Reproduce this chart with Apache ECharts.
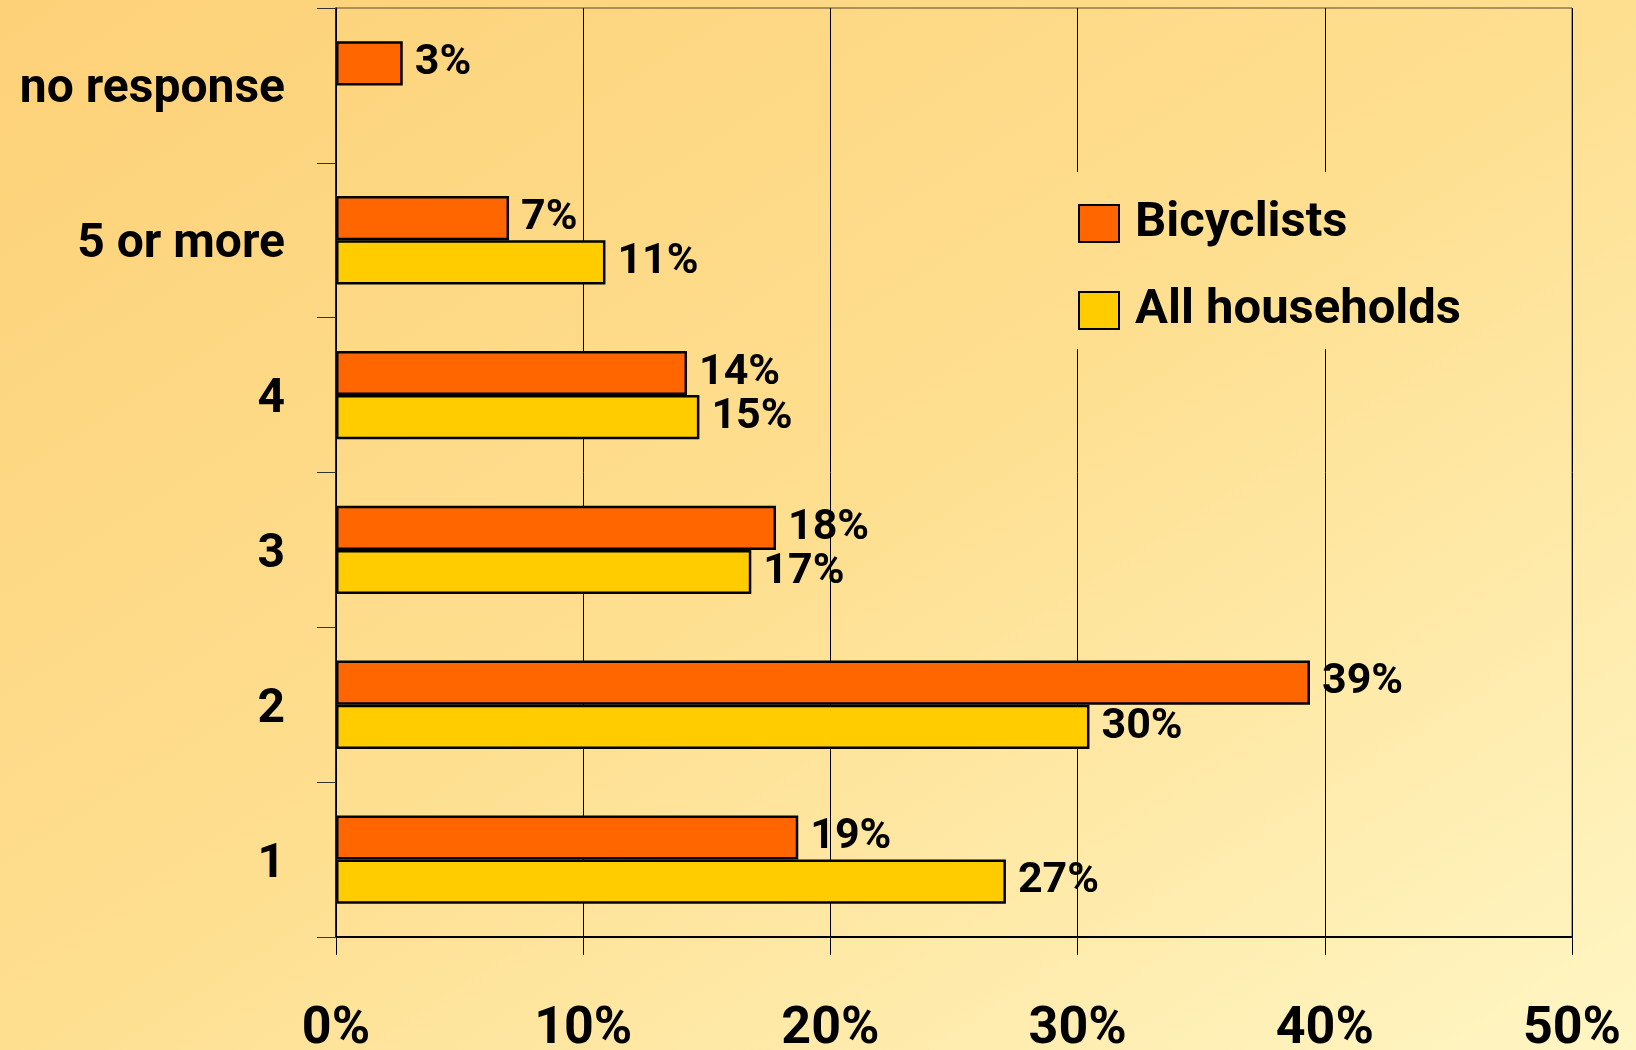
<!DOCTYPE html>
<html>
    <head>
        <meta charset="utf-8">
        <script src="https://cdn.jsdelivr.net/npm/echarts@6/dist/echarts.min.js"></script>
    </head>
    <body>
        <style>
            html, body {
                margin: 0;
            }
            #main {
                width: 1636px;
                height: 1050px;
            }
        </style>

        <div id="main"></div>

        <script>
            // bottom to top, as the category axis draws them
            const categories = ['1', '2', '3', '4', '5 or more', 'no response'];
            const bicyclists = [18.7, 39.4, 17.8, 14.2, 7.0, 2.7];
            const allHouseholds = [27.1, 30.48, 16.8, 14.7, 10.9, null];
            const valueTicks = {min: 0, max: 50, interval: 10};

            const font = "Roboto, 'Liberation Sans', sans-serif";

            var chart = echarts.init(document.getElementById('main'));

            // corner-to-corner diagonal wash, in canvas coordinates so the
            // patch behind the legend lines up with the page background
            function wash() {
                return new echarts.graphic.LinearGradient(0, 0, 954.6, 1487.3, [
                    {offset: 0, color: '#fdd178'},
                    {offset: 0.5, color: '#fedf90'},
                    {offset: 1, color: '#fff6c4'}
                ], true);
            }

            const barLabel = {
                show: true,
                position: 'right',
                distance: 12,
                color: '#000',
                fontFamily: font,
                fontWeight: 'bold',
                fontSize: 43,
                formatter: (p) => Math.round(p.value) + '%'
            };

            var option = {
                backgroundColor: wash(),
                animation: false,
                grid: {
                    left: 336, top: 8, right: 64, bottom: 113,
                    outerBoundsMode: 'none',
                    containLabel: false,
                    show: true,
                    borderColor: '#5a4a2a',
                    borderWidth: 1
                },
                // hides the grid lines behind the legend
                graphic: [{
                    type: 'rect', z: 1, silent: true,
                    shape: {x: 1064, y: 172, width: 430, height: 177},
                    style: {fill: wash()}
                }],
                legend: {
                    left: 1064, top: 172,
                    orient: 'vertical',
                    padding: [27, 22, 18, 14],
                    icon: 'rect',
                    itemWidth: 40, itemHeight: 37, itemGap: 38,
                    textStyle: {
                        fontFamily: font, fontWeight: 'bold', fontSize: 49,
                        color: '#000', padding: [0, 0, 0, 11]
                    },
                    data: ['Bicyclists', 'All households']
                },
                xAxis: {
                    type: 'value',
                    min: valueTicks.min, max: valueTicks.max, interval: valueTicks.interval,
                    axisLine: {show: true, lineStyle: {color: '#000', width: 2}},
                    axisTick: {show: true, length: 18, lineStyle: {color: '#000', width: 1}},
                    splitLine: {show: true, lineStyle: {color: '#000', width: 1}},
                    axisLabel: {
                        formatter: '{value}%', margin: 67,
                        color: '#000', fontFamily: font, fontWeight: 'bold', fontSize: 52
                    }
                },
                yAxis: {
                    type: 'category',
                    data: categories,
                    axisLine: {show: true, lineStyle: {color: '#000', width: 1.5}},
                    axisTick: {show: true, length: 19, lineStyle: {color: '#333', width: 1}},
                    axisLabel: {
                        margin: 51, color: '#000',
                        // thin line box hung from the band centre nudges the text down a bit
                        verticalAlign: 'top', lineHeight: 10,
                        fontFamily: font, fontWeight: 'bold', fontSize: 48
                    }
                },
                series: [
                    {
                        name: 'Bicyclists', type: 'bar', data: bicyclists,
                        barGap: '0%', barCategoryGap: '43%',
                        itemStyle: {color: '#ff6600', borderColor: '#000', borderWidth: 2.5},
                        label: barLabel
                    },
                    {
                        name: 'All households', type: 'bar', data: allHouseholds,
                        barGap: '0%', barCategoryGap: '43%',
                        itemStyle: {color: '#ffcc00', borderColor: '#000', borderWidth: 2.5},
                        label: barLabel
                    }
                ]
            };

            chart.setOption(option);
        </script>
    </body>
</html>
